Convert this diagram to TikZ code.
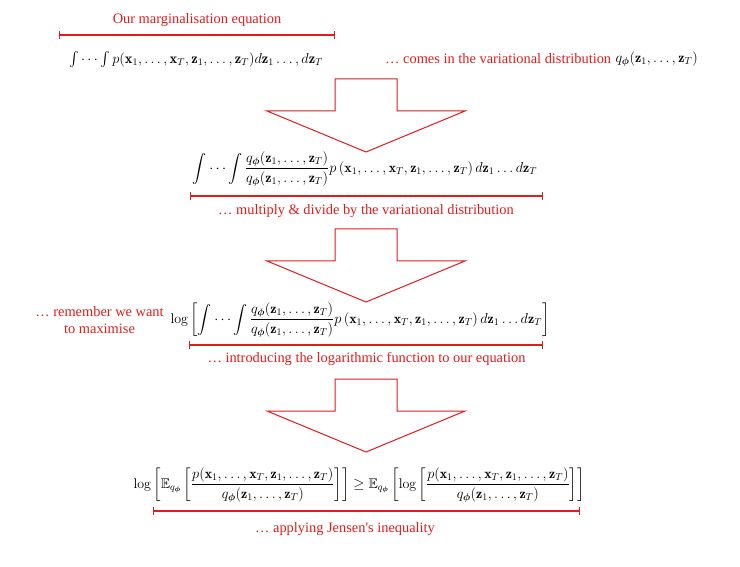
\documentclass[tikz,border=0pt]{standalone}
\usepackage{amsmath,amssymb,bm}
\usepackage{fontspec}
\newfontfamily\labfont{Liberation Serif}
\usetikzlibrary{arrows.meta}
\definecolor{mred}{RGB}{225,28,28}
\tikzset{
  lab/.style={text=mred,font=\labfont\fontsize{14.4}{16.5}\selectfont,inner sep=0pt},
  eqn/.style={text=black,font=\fontsize{14}{16}\selectfont,inner sep=0pt},
  bar/.style={draw=mred,line width=1.3pt,{Bar[width=8pt]}-{Bar[width=8pt]}},
  blockarrow/.style={draw=mred,line width=1pt,fill=white,line join=miter}
}
\newcommand{\zz}{\mathbf{z}_1,\ldots,\mathbf{z}_T}
\newcommand{\xx}{\mathbf{x}_1,\ldots,\mathbf{x}_T}
\newcommand{\qphi}{q_{\boldsymbol{\phi}}}
\begin{document}
\begin{tikzpicture}[x=1pt,y=-1pt]
\useasboundingbox (0,0) rectangle (740,567);
% step 1
\node[lab] (l1) at (197,20) {Our marginalisation equation};
\coordinate (b1a) at (59,35); \coordinate (b1b) at (335,35);
\draw[bar] (b1a) -- (b1b);
\node[eqn,font=\fontsize{14.5}{16}\selectfont] (e1) at (196,60) {$\int\cdots\int p(\xx,\zz)d\mathbf{z}_1\ldots,d\mathbf{z}_T$};
\node[lab,anchor=west] (l1b) at (385,59) {\dots\ comes in the variational distribution};
\node[eqn,anchor=east] (q1) at (698,59) {$\qphi(\zz)$};
% arrow 1
\draw[blockarrow] (335,79) -- (397,79) -- (397,111) -- (465,111) -- (366,152) -- (267,111) -- (335,111) -- cycle;
% step 2
\node[eqn] (e2) at (365,169) {$\displaystyle\int\cdots\int\frac{\qphi(\zz)}{\qphi(\zz)}p\left(\xx,\zz\right)d\mathbf{z}_1\ldots d\mathbf{z}_T$};
\coordinate (b2a) at (190,196); \coordinate (b2b) at (543,196);
\draw[bar] (b2a) -- (b2b);
\node[lab] (l2) at (366,211) {\dots\ multiply \& divide by the variational distribution};
% arrow 2
\draw[blockarrow] (335,229) -- (397,229) -- (397,261) -- (465,261) -- (366,302) -- (267,261) -- (335,261) -- cycle;
% step 3
\node[lab,align=center] (l3a) at (99.5,320) {\dots\ remember we want\\to maximise};
\node[eqn] (e3) at (360,320) {$\displaystyle\log\left[\int\cdots\int\frac{\qphi(\zz)}{\qphi(\zz)}p\left(\xx,\zz\right)d\mathbf{z}_1\ldots d\mathbf{z}_T\right]$};
\coordinate (b3a) at (189,345); \coordinate (b3b) at (543,345);
\draw[bar] (b3a) -- (b3b);
\node[lab] (l3) at (366.5,359) {\dots\ introducing the logarithmic function to our equation};
% arrow 3
\draw[blockarrow] (335,379) -- (397,379) -- (397,411) -- (465,411) -- (366,452) -- (267,411) -- (335,411) -- cycle;
% step 4
\node[eqn] (e4) at (359,485) {$\displaystyle\log\left[\mathbb{E}_{\qphi}\left[\frac{p(\xx,\zz)}{\qphi(\zz)}\right]\right]\geq\mathbb{E}_{\qphi}\left[\log\left[\frac{p(\xx,\zz)}{\qphi(\zz)}\right]\right]$};
\coordinate (b4a) at (153,511); \coordinate (b4b) at (580,511);
\draw[bar] (b4a) -- (b4b);
\node[lab] (l4) at (345,529) {\dots\ applying Jensen's inequality};
\end{tikzpicture}
\end{document}
